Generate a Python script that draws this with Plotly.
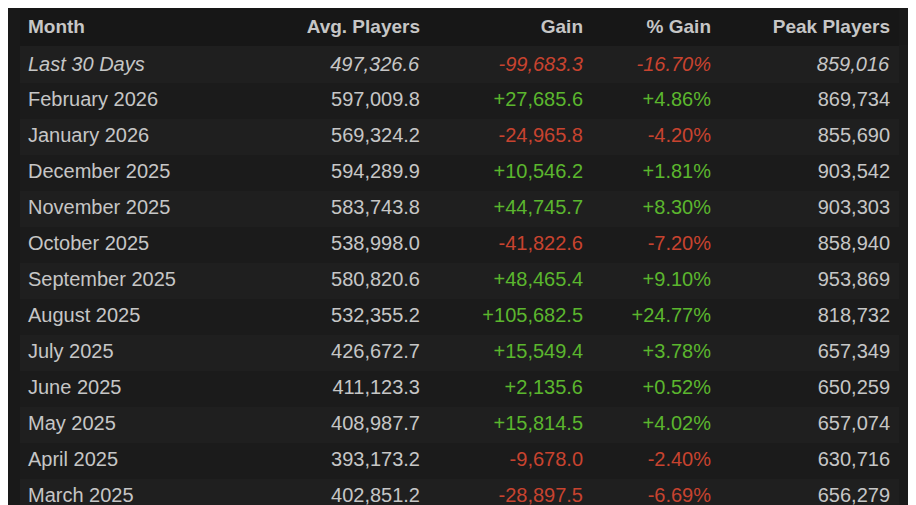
import plotly.graph_objects as go

months = ["Last 30 Days", "February 2026", "January 2026", "December 2025", "November 2025",
          "October 2025", "September 2025", "August 2025", "July 2025", "June 2025",
          "May 2025", "April 2025", "March 2025"]
avg_players = [497326.6, 597009.8, 569324.2, 594289.9, 583743.8, 538998.0, 580820.6,
               532355.2, 426672.7, 411123.3, 408987.7, 393173.2, 402851.2]
gain = [-99683.3, 27685.6, -24965.8, 10546.2, 44745.7, -41822.6, 48465.4,
        105682.5, 15549.4, 2135.6, 15814.5, -9678.0, -28897.5]
pct_gain = [-16.70, 4.86, -4.20, 1.81, 8.30, -7.20, 9.10, 24.77, 3.78, 0.52, 4.02, -2.40, -6.69]
peak_players = [859016, 869734, 855690, 903542, 903303, 858940, 953869,
                818732, 657349, 650259, 657074, 630716, 656279]

GREEN = "#5bb62e"
RED = "#c8432f"
TEXT = "#c6c6c6"

def ital(s, i):
    return "<i>" + s + "</i>" if i == 0 else s

col_month = [ital(m, i) for i, m in enumerate(months)]
col_avg = [ital(f"{v:,.1f}", i) for i, v in enumerate(avg_players)]
col_gain = [ital(f"{v:+,.1f}", i) for i, v in enumerate(gain)]
col_pct = [ital(f"{v:+.2f}%", i) for i, v in enumerate(pct_gain)]
col_peak = [ital(f"{v:,}", i) for i, v in enumerate(peak_players)]

gain_colors = [GREEN if v >= 0 else RED for v in gain]
row_fill = ["#1f1f1f" if i % 2 == 0 else "#1b1b1b" for i in range(len(months))]

fig = go.Figure(go.Table(
    domain=dict(x=[12 / 916, 890 / 916], y=[0, 1]),
    columnwidth=[210, 198, 163, 128, 179],
    header=dict(
        values=["<b>Month</b>", "<b>Avg. Players</b>", "<b>Gain</b>", "<b>% Gain</b>", "<b>Peak Players</b>"],
        align=["left", "right", "right", "right", "right"],
        fill_color="#171717", line_color="#171717",
        font=dict(family="Liberation Sans, Arial", size=19, color=TEXT),
        height=28,
    ),
    cells=dict(
        values=[col_month, col_avg, col_gain, col_pct, col_peak],
        align=["left", "right", "right", "right", "right"],
        fill_color=[row_fill] * 5,
        line_color=[row_fill] * 5,
        font=dict(family="Liberation Sans, Arial", size=20,
                  color=[TEXT, TEXT, gain_colors, gain_colors, TEXT]),
        height=36,
    ),
))

fig.update_layout(
    width=916, height=505,
    margin=dict(l=0, r=0, t=0, b=0),
    paper_bgcolor="#191919",
)

fig.write_html("out.html")
